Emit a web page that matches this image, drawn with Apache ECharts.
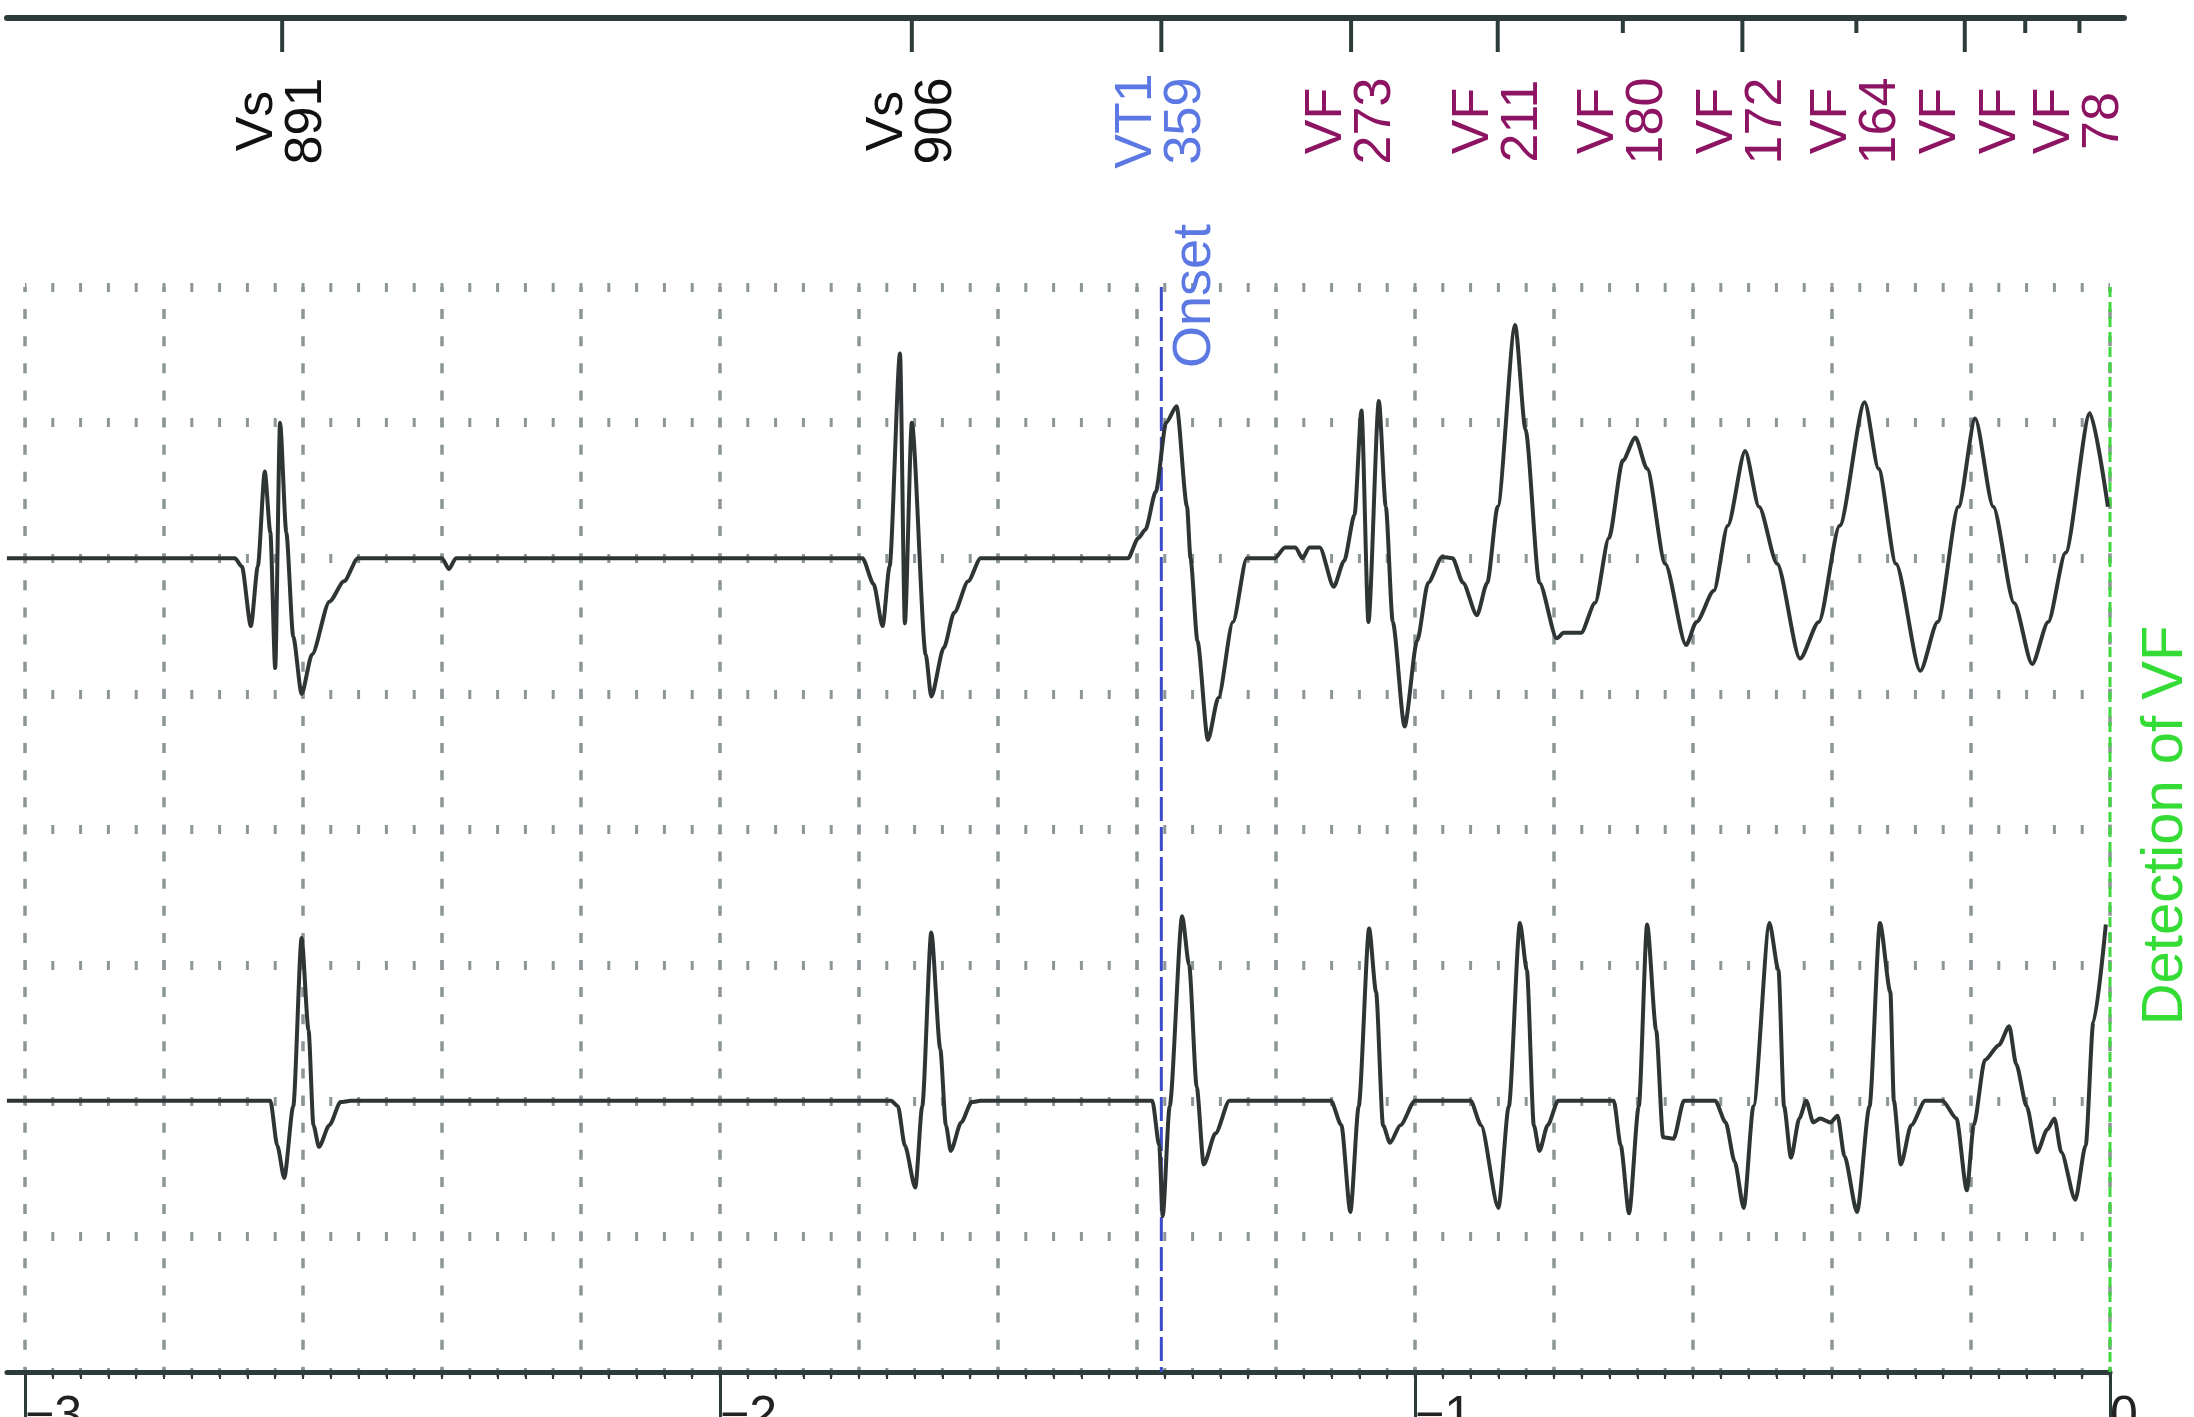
<!DOCTYPE html>
<html lang="en">
<head>
    <meta charset="UTF-8">
    <title>VF detection</title>
    <script src="https://cdn.jsdelivr.net/npm/echarts@6/dist/echarts.min.js"></script>
    <style>
        html, body { margin: 0; padding: 0; background: #fff; }
        #chart { width: 2194px; height: 1417px; }
    </style>
</head>
<body>
<div id="chart"></div>
<script>
// time axis: seconds before VF detection
var timeTicks = [-3, -2, -1, 0];

// marker channel
var markerTime = [-2.630, -1.724, -1.365, -1.092, -0.881, -0.701, -0.529, -0.365, -0.209, -0.122, -0.044];
var markerName = ['Vs', 'Vs', 'VT1', 'VF', 'VF', 'VF', 'VF', 'VF', 'VF', 'VF', 'VF'];
var markerRR = ['891', '906', '359', '273', '211', '180', '172', '164', '', '', '78'];
var markerLong = [1, 1, 1, 1, 1, 0, 1, 0, 1, 0, 0];

// events
var eventTime = [-1.365, 0];
var eventText = ['Onset', 'Detection of VF'];

// channel 1 (upper egm): [time, amplitude]
var ch1 = [
    [-3.026, 0], [-2.698, 0], [-2.688, -0.06], [-2.675, -0.50], [-2.665, -0.06], [-2.655, 0.64], [-2.647, 0.19],
    [-2.640, -0.81], [-2.633, 1.00], [-2.624, 0.19], [-2.614, -0.58], [-2.602, -1.00], [-2.587, -0.71], [-2.562, -0.32],
    [-2.541, -0.17], [-2.521, 0], [-2.400, 0], [-2.390, -0.08], [-2.380, 0],
    [-1.795, 0], [-1.779, -0.19], [-1.766, -0.50], [-1.756, -0.06], [-1.741, 1.51], [-1.734, -0.48], [-1.724, 1.00],
    [-1.704, -0.71], [-1.696, -1.02], [-1.678, -0.66], [-1.663, -0.40], [-1.643, -0.17], [-1.625, 0],
    [-1.413, 0], [-1.398, 0.15], [-1.388, 0.21], [-1.373, 0.49], [-1.358, 1.00], [-1.343, 1.12], [-1.328, 0.38],
    [-1.323, 0], [-1.313, -0.61], [-1.298, -1.34], [-1.283, -1.03], [-1.262, -0.47], [-1.242, 0],
    [-1.202, 0], [-1.187, 0.08], [-1.172, 0.08], [-1.162, 0], [-1.152, 0.08], [-1.137, 0.08], [-1.117, -0.21],
    [-1.102, -0.02], [-1.087, 0.32], [-1.077, 1.09], [-1.067, -0.47], [-1.052, 1.16], [-1.042, 0.38], [-1.032, -0.47],
    [-1.015, -1.24], [-0.997, -0.61], [-0.981, -0.18], [-0.961, 0.01], [-0.946, 0],
    [-0.931, -0.18], [-0.911, -0.42], [-0.896, -0.18], [-0.881, 0.38], [-0.856, 1.72], [-0.841, 0.95], [-0.821, -0.18],
    [-0.796, -0.59], [-0.786, -0.55], [-0.761, -0.55], [-0.741, -0.33], [-0.721, 0.15], [-0.701, 0.72], [-0.683, 0.89],
    [-0.666, 0.66], [-0.640, -0.04], [-0.610, -0.64], [-0.595, -0.47], [-0.570, -0.24], [-0.550, 0.24], [-0.525, 0.79],
    [-0.505, 0.38], [-0.479, -0.04], [-0.446, -0.74], [-0.419, -0.47], [-0.389, 0.24], [-0.353, 1.15], [-0.333, 0.66],
    [-0.308, -0.04], [-0.273, -0.83], [-0.248, -0.47], [-0.218, 0.38], [-0.194, 1.03], [-0.168, 0.38], [-0.138, -0.33],
    [-0.112, -0.78], [-0.089, -0.47], [-0.064, 0.04], [-0.029, 1.07], [-0.003, 0.38]
];

// channel 2 (lower egm)
var ch2 = [
    [-3.026, 0], [-2.647, 0], [-2.637, -0.33], [-2.627, -0.57], [-2.614, -0.04], [-2.602, 1.20], [-2.592, 0.52],
    [-2.585, -0.18], [-2.577, -0.34], [-2.562, -0.18], [-2.546, -0.01], [-2.531, 0],
    [-1.754, 0], [-1.744, -0.04], [-1.734, -0.33], [-1.719, -0.64], [-1.709, -0.04], [-1.696, 1.24], [-1.683, 0.38],
    [-1.675, -0.18], [-1.668, -0.37], [-1.653, -0.16], [-1.638, -0.01], [-1.625, 0],
    [-1.378, 0], [-1.368, -0.33], [-1.363, -0.85], [-1.353, -0.04], [-1.335, 1.36], [-1.325, 1.00], [-1.314, 0.10],
    [-1.304, -0.47], [-1.287, -0.24], [-1.267, 0],
    [-1.121, 0], [-1.106, -0.18], [-1.093, -0.82], [-1.081, -0.04], [-1.066, 1.27], [-1.056, 0.80], [-1.046, -0.18],
    [-1.036, -0.31], [-1.021, -0.18], [-1.000, 0],
    [-0.920, 0], [-0.905, -0.18], [-0.880, -0.79], [-0.865, -0.04], [-0.849, 1.31], [-0.839, 0.96], [-0.829, -0.18],
    [-0.821, -0.37], [-0.809, -0.18], [-0.794, 0],
    [-0.714, 0], [-0.704, -0.33], [-0.692, -0.83], [-0.678, -0.04], [-0.666, 1.30], [-0.653, 0.52], [-0.643, -0.27],
    [-0.628, -0.28], [-0.613, 0],
    [-0.568, 0], [-0.553, -0.16], [-0.540, -0.45], [-0.527, -0.79], [-0.513, -0.04], [-0.490, 1.31], [-0.477, 0.96],
    [-0.469, -0.04], [-0.459, -0.42], [-0.447, -0.13], [-0.437, 0], [-0.427, -0.16], [-0.417, -0.13], [-0.402, -0.16],
    [-0.392, -0.11], [-0.382, -0.41], [-0.364, -0.82], [-0.346, -0.04], [-0.331, 1.31], [-0.316, 0.80], [-0.311, 0],
    [-0.301, -0.47], [-0.286, -0.18], [-0.266, 0],
    [-0.241, 0], [-0.221, -0.13], [-0.206, -0.66], [-0.196, -0.18], [-0.180, 0.30], [-0.160, 0.41], [-0.145, 0.55],
    [-0.135, 0.27], [-0.120, -0.04], [-0.105, -0.38], [-0.090, -0.21], [-0.080, -0.13], [-0.070, -0.38], [-0.050, -0.73],
    [-0.035, -0.33], [-0.024, 0.58], [-0.006, 1.30]
];

var ch1Base = 6;
var ch2Base = 2;

var font = "'Liberation Sans', Arial, sans-serif";
var axisColor = '#2e3b3b';
var gridColor = '#8c9696';
var markerColor = { Vs: '#111111', VT1: '#5b78e3', VF: '#8c1462' };
var eventLine = ['#3b4cc8', '#3fd83f'];
var eventLabel = ['#5b78e3', '#36dc36'];

function shift(arr, base) {
    return arr.map(function (p) { return [p[0], p[1] + base]; });
}

function renderMarker(params, api) {
    var i = params.dataIndex;
    var p = api.coord([api.value(0), 1]);
    var len = markerLong[i] ? 34 : 15;
    return {
        type: 'group',
        children: [
            { type: 'line', shape: { x1: p[0], y1: p[1], x2: p[0], y2: p[1] + len },
              style: { stroke: axisColor, lineWidth: 4 } },
            { type: 'text', x: p[0], y: p[1] + 103, rotation: Math.PI / 2,
              style: { text: markerName[i] + '\n' + markerRR[i], fill: markerColor[markerName[i]],
                       fontSize: 52, fontFamily: font, lineHeight: 49,
                       align: 'center', verticalAlign: 'middle' } }
        ]
    };
}

function renderEvent(params, api) {
    var i = params.dataIndex;
    var t = api.value(0);
    var top = api.coord([t, 8]);
    var bot = api.coord([t, 0]);
    var txt;
    if (i === 0) {
        txt = { type: 'text', x: top[0] + 34, y: top[1] + 9, rotation: Math.PI / 2,
                style: { text: eventText[i], fill: eventLabel[i], fontSize: 54, fontFamily: font,
                         align: 'center', verticalAlign: 'middle' } };
    } else {
        var mid = api.coord([t, 4]);
        txt = { type: 'text', x: mid[0] + 56, y: mid[1] - 4, rotation: Math.PI / 2,
                style: { text: eventText[i], fill: eventLabel[i], fontSize: 58, fontFamily: font,
                         align: 'center', verticalAlign: 'middle' } };
    }
    return {
        type: 'group',
        children: [
            { type: 'line', shape: { x1: top[0], y1: top[1], x2: bot[0], y2: bot[1] },
              style: { stroke: eventLine[i], lineWidth: 3, lineDash: i === 0 ? [24, 6] : [10, 5] } },
            txt
        ]
    };
}

var chart = echarts.init(document.getElementById('chart'));
var option = {
    animation: false,
    backgroundColor: '#ffffff',
    grid: [
        { left: 7, right: 70, top: 18, height: 100, outerBoundsMode: 'none', containLabel: false },
        { left: 7, right: 84, top: 287, bottom: 45, outerBoundsMode: 'none', containLabel: false },
        { left: 25, right: 84, top: 287, bottom: 45, outerBoundsMode: 'none', containLabel: false }
    ],
    xAxis: [
        { gridIndex: 0, type: 'value', min: -3.0259, max: 0.0201, position: 'top',
          axisLine: { onZero: false, lineStyle: { color: axisColor, width: 6 } },
          axisTick: { show: false }, axisLabel: { show: false }, splitLine: { show: false } },
        { gridIndex: 1, type: 'value', min: -3.0259, max: 0, position: 'bottom',
          axisLine: { onZero: false, lineStyle: { color: axisColor, width: 5 } },
          axisTick: { show: false }, axisLabel: { show: false }, splitLine: { show: false } },
        { gridIndex: 2, type: 'value', min: -3, max: 0, interval: 0.2, position: 'bottom',
          axisLine: { show: false, onZero: false },
          axisTick: { show: true, length: 7, lineStyle: { color: axisColor, width: 2 } },
          minorTick: { show: true, splitNumber: 5, length: 7, lineStyle: { color: axisColor, width: 2 } },
          axisLabel: { show: false },
          splitLine: { show: true, lineStyle: { color: gridColor, width: 3.5, type: [10, 17.12], dashOffset: 5 } } },
        { gridIndex: 2, type: 'value', min: -3, max: 0, interval: 1, position: 'bottom',
          axisLine: { show: false, onZero: false },
          axisTick: { show: true, length: 60, lineStyle: { color: axisColor, width: 3 } },
          axisLabel: { show: true, margin: 20, align: 'left', fontSize: 50, fontFamily: font, color: '#222',
                       formatter: function (v) { return timeTicks.indexOf(v) >= 0 ? String(v).replace('-', '\u2212') : ''; } },
          splitLine: { show: false } }
    ],
    yAxis: [
        { gridIndex: 0, type: 'value', min: 0, max: 1, show: false },
        { gridIndex: 1, type: 'value', min: 0, max: 8, show: false },
        { gridIndex: 2, type: 'value', min: 0, max: 8, interval: 1,
          axisLine: { show: false }, axisTick: { show: false }, axisLabel: { show: false },
          splitLine: { show: true, lineStyle: { color: gridColor, width: 9, type: [3, 24.8], dashOffset: 1.5 } } }
    ],
    series: [
        { name: 'markers', type: 'custom', xAxisIndex: 0, yAxisIndex: 0, renderItem: renderMarker,
          data: markerTime.map(function (t) { return [t, 1]; }), z: 4 },
        { name: 'events', type: 'custom', xAxisIndex: 2, yAxisIndex: 2, renderItem: renderEvent,
          data: eventTime.map(function (t) { return [t, 0]; }), z: 2 },
        { name: 'ch1', type: 'line', xAxisIndex: 1, yAxisIndex: 1, data: shift(ch1, ch1Base),
          showSymbol: false, clip: false, smooth: 0.25, smoothMonotone: 'x',
          lineStyle: { color: '#2f3535', width: 4 }, z: 3 },
        { name: 'ch2', type: 'line', xAxisIndex: 1, yAxisIndex: 1, data: shift(ch2, ch2Base),
          showSymbol: false, clip: false, smooth: 0.25, smoothMonotone: 'x',
          lineStyle: { color: '#2f3535', width: 4 }, z: 3 }
    ]
};
chart.setOption(option);
</script>
</body>
</html>
